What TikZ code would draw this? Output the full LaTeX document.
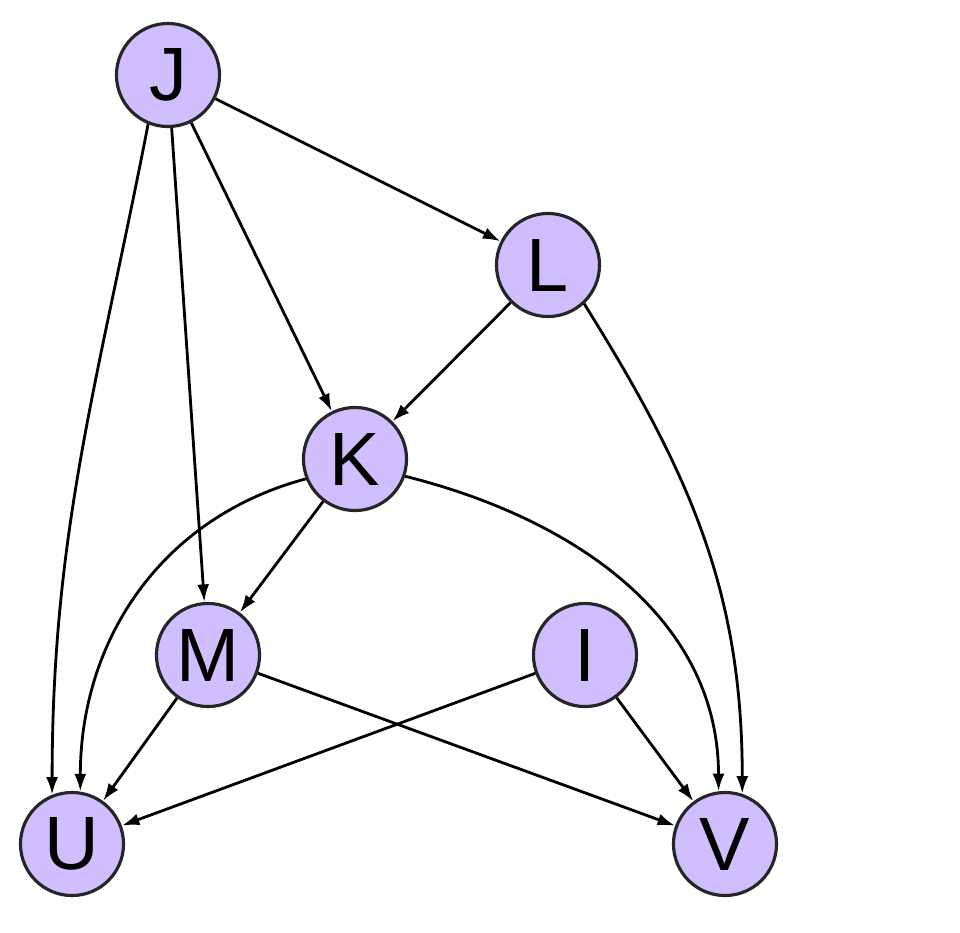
\documentclass[tikz,border=0pt]{standalone}
\usepackage{fontspec}
\setmainfont{Liberation Sans}
\usetikzlibrary{arrows.meta}
\definecolor{lavender}{RGB}{208,190,255}
\tikzstyle{var_node} = [
    circle,
    draw=black!85,
    fill=lavender,
    line width=0.9pt,
    inner sep=0pt,
    minimum size=1.03cm, % radius about 52px
    font=\fontsize{21.5}{25}\selectfont
]
\tikzstyle{edge} = [
    -{Latex[length=5pt, width=3.4pt]},
    line width=0.8pt
]

\begin{document}
\begin{tikzpicture}[x=0.01cm, y=-0.01cm]
\useasboundingbox (0,0) rectangle (960,933);
% nodes
\node [var_node] (J) at (168,75)  {J};
\node [var_node] (L) at (548,265) {L};
\node [var_node] (K) at (355,459) {K};
\node [var_node] (M) at (208,655) {M};
\node [var_node] (I) at (585,655) {I};
\node [var_node] (U) at (72,844)  {U};
\node [var_node] (V) at (725,844) {V};
% edges
\draw [edge] (J) -- (L);
\draw [edge] (J) -- (K);
\draw [edge] (J) -- (M);
\draw [edge] (J.248) to[out=-101, in=90] (U.112);
\draw [edge] (L) -- (K);
\draw [edge] (L.-47) to[out=-58, in=90] (V.71);
\draw [edge] (K) -- (M);
\draw [edge] (K.202) to[out=195, in=90] (U.81);
\draw [edge] (K.-19) to[out=-14, in=90] (V.97);
\draw [edge] (M) -- (U);
\draw [edge] (M) -- (V);
\draw [edge] (I) -- (U);
\draw [edge] (I) -- (V);
\end{tikzpicture}
\end{document}
